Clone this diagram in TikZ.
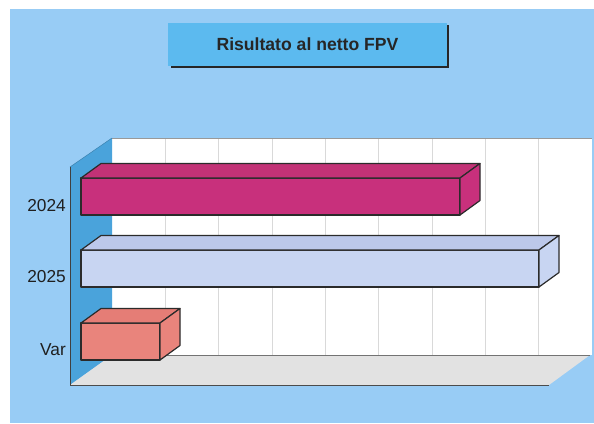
\documentclass[tikz,border=0pt]{standalone}
\usepackage{fontspec}
\setmainfont{Liberation Sans}
\definecolor{bgblue}{HTML}{98CCF5}
\definecolor{titleblue}{HTML}{5CBAEF}
\definecolor{wallblue}{HTML}{4AA3DB}
\definecolor{floorgray}{HTML}{E2E2E2}
\definecolor{magbar}{HTML}{C8307C}
\definecolor{magtop}{HTML}{C23276}
\definecolor{lavbar}{HTML}{C8D5F2}
\definecolor{lavtop}{HTML}{BCC8EA}
\definecolor{salbar}{HTML}{E9847C}
\definecolor{saltop}{HTML}{E57D76}
\definecolor{edge}{HTML}{2B2B2B}
\begin{document}
\begin{tikzpicture}[x=1pt,y=-1pt,
  titlebox/.style={fill=titleblue, minimum width=279pt, minimum height=43pt, inner sep=0pt, outer sep=0pt,
    font=\bfseries\fontsize{17.6}{19}\selectfont, text=black!85},
  catlabel/.style={anchor=east, inner sep=0pt, font=\fontsize{17.3}{19}\selectfont, text=black!88},
  barfront/.style={draw=edge, line width=1.2pt, line join=round, minimum height=37pt, inner sep=0pt, outer sep=0pt, anchor=north west},
  barface/.style={draw=edge, line width=1.2pt, line join=round},
  gridline/.style={draw=black!15, line width=0.5pt}]
\useasboundingbox (0,0) rectangle (594,423);
% background
\fill[bgblue] (10,9) rectangle (594,423);
% title
\node[titlebox] (title) at (307.5,44.5) {Risultato al netto FPV};
\draw[line width=1.6pt, black!85] ([xshift=1pt,yshift=-2pt]title.north east) -- ([xshift=1pt,yshift=-1pt]title.south east) -- ([xshift=3pt,yshift=-1pt]title.south west);
% back wall
\fill[white] (112,138) rectangle (592,355);
\foreach \k in {1,...,8} {
  \draw[gridline] ({112+53.33*\k},138) -- ({112+53.33*\k},355);
}
\draw[black!40, line width=0.6pt] (112,138) -- (592,138);
% left wall
\fill[wallblue] (70,167) -- (112,138) -- (112,355) -- (70,385) -- cycle;
\draw[wallblue!80!black, line width=0.5pt] (70,167) -- (112,138);
% floor
\fill[floorgray] (112,355) -- (590,355) -- (549,385) -- (70,385) -- cycle;
\draw[black!55, line width=0.8pt] (112,355) -- (590,355);
\draw[black!70, line width=0.9pt] (70,385) -- (549,385);
\draw[black!75, line width=1pt] (70,167) -- (70,385);
% bars
\node[barfront, fill=magbar, minimum width=379pt] (b2024) at (81,178) {};
\fill[magtop, barface] (b2024.north west) -- ++(20,-14.5) -- ([shift={(20,-14.5)}]b2024.north east) -- (b2024.north east) -- cycle;
\fill[magbar, barface] (b2024.north east) -- ++(20,-14.5) -- ([shift={(20,-14.5)}]b2024.south east) -- (b2024.south east) -- cycle;

\node[barfront, fill=lavbar, minimum width=458pt] (b2025) at (81,250) {};
\fill[lavtop, barface] (b2025.north west) -- ++(20,-14.5) -- ([shift={(20,-14.5)}]b2025.north east) -- (b2025.north east) -- cycle;
\fill[lavbar, barface] (b2025.north east) -- ++(20,-14.5) -- ([shift={(20,-14.5)}]b2025.south east) -- (b2025.south east) -- cycle;

\node[barfront, fill=salbar, minimum width=79pt] (bvar) at (81,323) {};
\fill[saltop, barface] (bvar.north west) -- ++(20,-14.5) -- ([shift={(20,-14.5)}]bvar.north east) -- (bvar.north east) -- cycle;
\fill[salbar, barface] (bvar.north east) -- ++(20,-14.5) -- ([shift={(20,-14.5)}]bvar.south east) -- (bvar.south east) -- cycle;
% labels
\node[catlabel] (l2024) at (66,206) {2024};
\node[catlabel] (l2025) at (66,277) {2025};
\node[catlabel] (lvar) at (66,350) {Var};
\end{tikzpicture}
\end{document}
